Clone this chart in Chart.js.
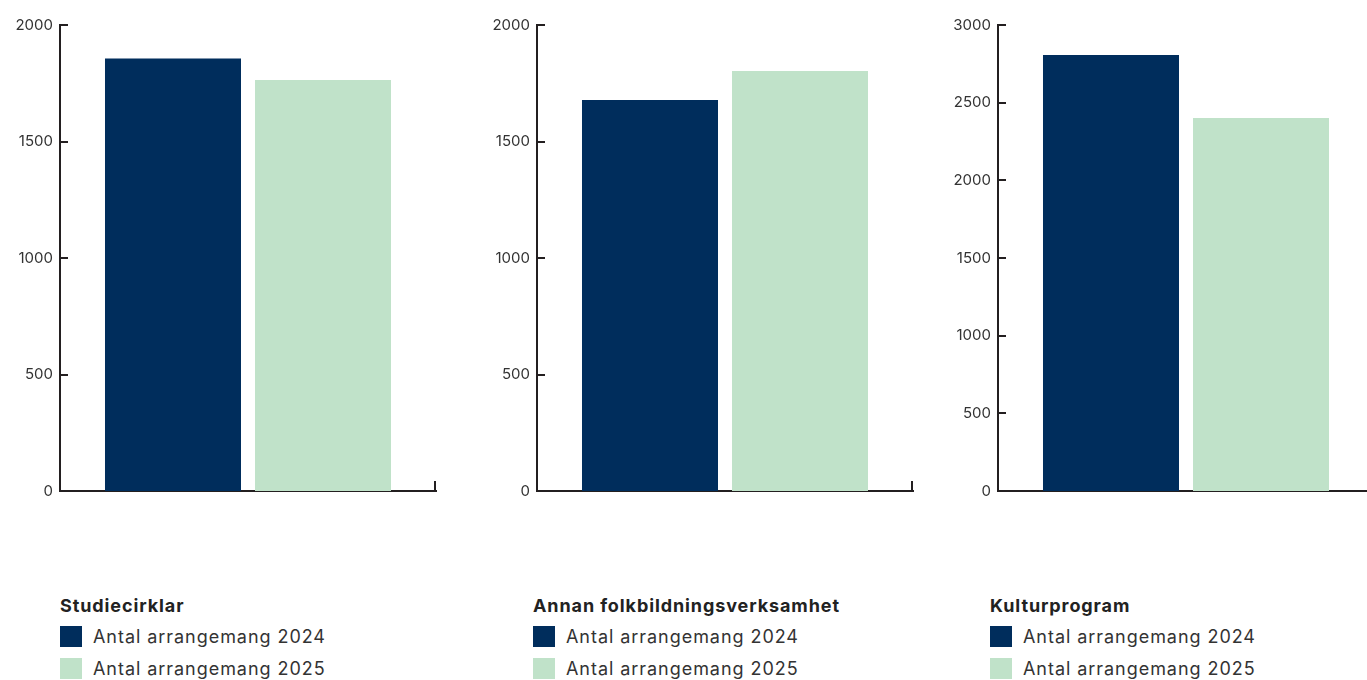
<!DOCTYPE html>
<html>
<head>
<meta charset="utf-8">
<script src="https://cdn.jsdelivr.net/npm/chart.js@4"></script>
<style>
html,body{margin:0;padding:0;background:#fff;width:1367px;height:680px;overflow:hidden;position:relative;font-family:Inter,"Noto Sans",sans-serif;}
.panel{position:absolute;top:0;width:446px;height:507px;}
.legend{position:absolute;top:592px;color:#222;}
.legend .title{font-weight:700;font-size:18px;letter-spacing:0.9px;height:28px;line-height:28px;}
.legend .item{display:flex;align-items:center;height:32px;font-size:18px;letter-spacing:0.95px;color:#333;}
.legend .sw{width:22px;height:21px;margin-right:11px;}
</style>
</head>
<body>
<div class="panel" style="left:0"><canvas id="c1"></canvas></div>
<div class="panel" style="left:477px"><canvas id="c2"></canvas></div>
<div class="panel" style="left:938px"><canvas id="c3"></canvas></div>
<div id="legends"></div>
<script>
const seriesLabels = ["Antal arrangemang 2024", "Antal arrangemang 2025"];
const panelTitles = ["Studiecirklar", "Annan folkbildningsverksamhet", "Kulturprogram"];
const values2024 = [1856, 1678, 2807];
const values2025 = [1764, 1803, 2402];
const axisMax = [2000, 2000, 3000];
const axisStep = [500, 500, 500];
const colors = ["#002D5C", "#C0E2C9"];
const legendLeft = [60, 533, 990];

const axisColor = "#231F20";
const inwardTicks = {
  id: "inwardTicks",
  afterDraw(chart) {
    const ctx = chart.ctx, y = chart.scales.y, a = chart.chartArea;
    ctx.save();
    ctx.strokeStyle = axisColor;
    ctx.lineWidth = 2;
    ctx.beginPath();
    y.ticks.forEach(t => {
      const py = Math.round(y.getPixelForValue(t.value));
      if (t.value === 0) return;
      ctx.moveTo(a.left, py);
      ctx.lineTo(a.left + 8, py);
    });
    ctx.moveTo(a.right - 1, a.bottom);
    ctx.lineTo(a.right - 1, a.bottom - 10);
    ctx.stroke();
    ctx.restore();
  }
};

["c1","c2","c3"].forEach((id, i) => {
  new Chart(document.getElementById(id), {
    type: "bar",
    data: {
      labels: [""],
      datasets: [
        { label: seriesLabels[0], data: [values2024[i]], backgroundColor: colors[0] },
        { label: seriesLabels[1], data: [values2025[i]], backgroundColor: colors[1] }
      ]
    },
    options: {
      responsive: true,
      maintainAspectRatio: false,
      animation: false,
      categoryPercentage: 0.7979,
      barPercentage: 0.9067,
      layout: { padding: { top: 25, right: 10, left: 0, bottom: 0 } },
      plugins: { legend: { display: false }, tooltip: { enabled: false } },
      scales: {
        x: {
          grid: { display: false, drawTicks: false },
          border: { display: true, color: axisColor, width: 2 },
          ticks: { display: false },
          afterFit(s) { s.height = 3; }
        },
        y: {
          min: 0, max: axisMax[i],
          grid: { display: false, drawTicks: false },
          border: { display: true, color: axisColor, width: 2 },
          ticks: { stepSize: axisStep[i], color: "#333", padding: 7, font: { family: "Inter", size: 15 },
                   callback: v => String(v) },
          afterFit(s) { s.width = 60; }
        }
      }
    },
    plugins: [inwardTicks]
  });

  const lg = document.createElement("div");
  lg.className = "legend";
  lg.style.left = legendLeft[i] + "px";
  lg.innerHTML = '<div class="title">' + panelTitles[i] + '</div>' +
    seriesLabels.map((s, k) => '<div class="item"><span class="sw" style="background:' + colors[k] + '"></span>' + s + '</div>').join("");
  document.getElementById("legends").appendChild(lg);
});
</script>
</body>
</html>
